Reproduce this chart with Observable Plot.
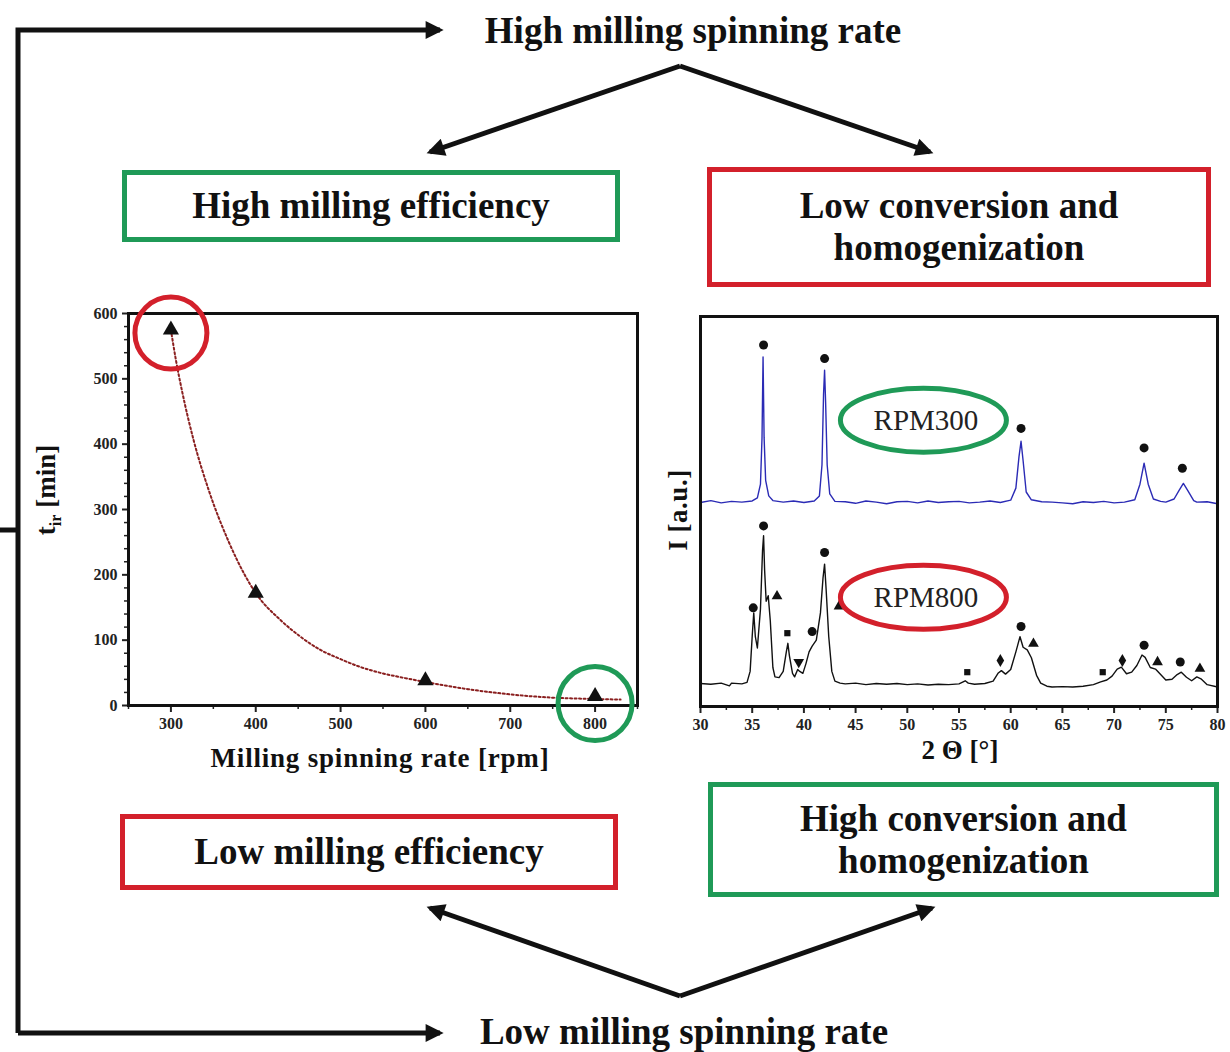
<!DOCTYPE html>
<html><head><meta charset="utf-8">
<script src="https://cdn.jsdelivr.net/npm/d3@7"></script>
<script src="https://cdn.jsdelivr.net/npm/@observablehq/plot@0.6"></script>
<style>
html,body{margin:0;padding:0;background:#fff;}
#root{position:relative;width:1230px;height:1052px;overflow:hidden;font-family:"Liberation Serif","Times New Roman",serif;background:#fff;}
.box{position:absolute;box-sizing:border-box;border:5px solid;display:flex;align-items:center;justify-content:center;text-align:center;font-weight:bold;font-size:37px;line-height:42px;color:#111;}
.lbl{position:absolute;font-weight:bold;white-space:nowrap;color:#111;transform:translate(-50%,-50%);}
.plot{position:absolute;}
#overlay{position:absolute;left:0;top:0;pointer-events:none;}
</style></head><body><div id="root"></div>
<script>
// ---------- Left chart data: t_ir vs milling spinning rate ----------
const rpmValues = [300, 400, 600, 800];
const tirValues = [575, 172, 38, 14];
const fitRpm = [300, 306, 313, 327, 345, 368, 387, 400, 429, 452, 475, 500, 521, 550, 568, 600, 650, 700, 750, 800, 830];
const fitTir = [575, 528, 482, 405, 328, 251, 200, 172, 131, 106, 86, 71, 60, 49, 44, 36, 25, 17, 12, 10, 9];
const leftXTicks = [300, 400, 500, 600, 700, 800];
const leftXMinor = [250, 350, 450, 550, 650, 750, 850];
const leftYTicks = [0, 100, 200, 300, 400, 500, 600];
const leftYMinor = [20, 40, 60, 80, 120, 140, 160, 180, 220, 240, 260, 280, 320, 340, 360, 380, 420, 440, 460, 480, 520, 540, 560, 580];
const circleRedRpm = [300], circleRedTir = [570];
const circleGreenRpm = [800], circleGreenTir = [3];

// ---------- Right chart data: XRD patterns ----------
const rpm300Theta = [30, 31, 32, 33, 34, 35, 35.5, 35.8, 35.95, 36.05, 36.15, 36.3, 36.6, 37, 38, 39, 40, 41, 41.5, 41.75, 41.9, 42.0, 42.1, 42.25, 42.5, 43, 44, 45, 46, 47, 48, 49, 50, 51, 52, 53, 54, 55, 56, 57, 58, 59, 60, 60.5, 60.8, 61.0, 61.2, 61.5, 62, 63, 64, 65, 66, 67, 68, 69, 70, 71, 72, 72.5, 72.9, 73.3, 73.8, 74.5, 75, 75.8, 76.3, 76.7, 77.1, 77.7, 78, 79, 80];
const rpm300I = [52.3, 52.8, 52.2, 52.6, 52.4, 52.7, 53.5, 57, 69, 89.6, 69, 58, 54, 52.8, 52.4, 52.7, 52.3, 52.7, 54, 62, 80, 86.2, 78, 62, 54.5, 52.6, 52.5, 52.1, 52.7, 52.4, 52.0, 52.5, 52.6, 52.2, 52.7, 52.3, 52.5, 52.6, 52.2, 52.4, 52.7, 52.3, 52.9, 56, 64, 68, 63, 55, 53, 52.5, 52.4, 52.2, 52.0, 52.5, 52.3, 52.6, 52.2, 52.4, 53, 57, 62.4, 57, 53.2, 52.6, 52.4, 53.2, 55.5, 57.2, 55.5, 52.8, 52.4, 52.5, 52.0];
const rpm800Theta = [30, 31, 32, 32.8, 33, 34, 34.5, 34.8, 35.0, 35.15, 35.3, 35.5, 35.8, 36.0, 36.1, 36.2, 36.35, 36.55, 36.75, 37.0, 37.2, 37.6, 38.0, 38.3, 38.45, 38.6, 38.9, 39.1, 39.4, 39.6, 39.9, 40.2, 40.5, 40.8, 41.2, 41.6, 41.85, 42.0, 42.15, 42.4, 42.7, 43, 43.5, 44, 45, 46, 47, 48, 49, 50, 51, 52, 53, 54, 55, 55.6, 55.9, 56.5, 57.5, 58.3, 58.8, 59.1, 59.5, 60.0, 60.5, 60.9, 61.2, 61.6, 62.0, 62.5, 62.9, 63.5, 64, 65, 66, 67, 68, 68.7, 69.3, 69.8, 70.3, 70.7, 71.2, 71.7, 72.2, 72.7, 73.0, 73.5, 74.0, 74.5, 75.0, 75.6, 76.1, 76.5, 77.0, 77.5, 78.0, 78.4, 79.0, 80];
const rpm800I = [5.9, 5.7, 6.0, 5.3, 6.0, 5.8, 6.2, 9, 18, 24, 18, 15, 25, 40, 43.8, 35, 27, 28.4, 22, 10, 7.6, 7.4, 9, 14, 16.2, 13, 8.5, 7.6, 9.5, 9, 8.5, 11, 14, 15.5, 17, 24, 33, 36.5, 30, 18, 9, 6.5, 6.0, 5.8, 6.0, 5.6, 5.9, 5.7, 5.9, 5.6, 5.8, 5.5, 5.7, 5.6, 5.8, 6.6, 6.0, 5.7, 5.9, 6.5, 8.6, 9.2, 8.3, 9.5, 14, 17.9, 15.2, 14.5, 12.5, 8, 6.0, 5.2, 5.0, 5.1, 5.0, 5.2, 5.6, 6.3, 6.8, 7.8, 9.6, 10.1, 8.4, 8.8, 10.5, 13.2, 12.6, 10.0, 9.6, 8.2, 6.8, 7.0, 8.2, 8.8, 7.5, 6.6, 7.6, 7.1, 5.6, 5.0];
// phase markers
const dotTheta300 = [36.1, 42.0, 61.0, 72.9, 76.6];
const dotI300 = [92.7, 89.2, 71.3, 66.3, 61.1];
const dotTheta800 = [35.1, 36.1, 40.8, 42.0, 61.0, 72.9, 76.4];
const dotI800 = [25.3, 46.3, 19.2, 39.5, 20.5, 15.7, 11.4];
const triTheta800 = [37.4, 43.4, 62.2, 74.2, 78.3];
const triI800 = [28.3, 25.7, 16.1, 11.4, 9.7];
const sqTheta800 = [38.4, 55.8, 68.9];
const sqI800 = [18.8, 8.8, 8.8];
const diaTheta800 = [59.0, 70.8];
const diaI800 = [11.8, 11.8];
const downTheta800 = [39.5];
const downI800 = [11.4];
const sampleLabels = ["RPM300", "RPM800"];
const sampleTheta = [51.8, 51.8];
const sampleI = [73.3, 27.9];
const rightXTicks = [30, 35, 40, 45, 50, 55, 60, 65, 70, 75, 80];
const rightXMinor = [32.5, 37.5, 42.5, 47.5, 52.5, 57.5, 62.5, 67.5, 72.5, 77.5];

// ---------- Diagram texts ----------
const topText = "High milling spinning rate";
const bottomText = "Low milling spinning rate";
const boxTexts = ["High milling efficiency", "Low conversion and<br>homogenization", "Low milling efficiency", "High conversion and<br>homogenization"];

const zip = (xs, ys) => xs.map((x, i) => ({x, y: ys[i]}));
const root = document.getElementById("root");
const GREEN = "#1f9a57", RED = "#d3202b";
const blank = () => "";

// ---------- Left chart ----------
const leftChart = Plot.plot({
  width: 620, height: 490,
  marginLeft: 88, marginRight: 23, marginTop: 23, marginBottom: 75,
  x: {domain: [250, 850], axis: null},
  y: {domain: [0, 600], axis: null},
  style: {fontFamily: "Liberation Serif, serif", fontSize: "16px", fontWeight: "bold", background: "transparent", overflow: "visible", color: "#222"},
  marks: [
    Plot.axisY({ticks: leftYTicks, tickSize: 6, tickPadding: 5, strokeWidth: 2, label: null}),
    Plot.axisY({ticks: leftYMinor, tickSize: 4, tickFormat: blank, strokeWidth: 1.5, label: null}),
    Plot.axisX({ticks: leftXTicks, tickSize: 7, tickPadding: 5, strokeWidth: 2, label: null}),
    Plot.axisX({ticks: leftXMinor, tickSize: 4, tickFormat: blank, strokeWidth: 1.5, label: null}),
    Plot.line(zip(fitRpm, fitTir), {x: "x", y: "y", stroke: "#8a1f1f", strokeWidth: 2, strokeDasharray: "2,2.5", curve: "monotone-x"}),
    Plot.dot(zip(rpmValues, tirValues), {x: "x", y: "y", symbol: "triangle", fill: "#111", r: 6}),
    Plot.frame({stroke: "#111", strokeWidth: 3}),
    Plot.dot(zip(circleRedRpm, circleRedTir), {x: "x", y: "y", r: 36, stroke: RED, strokeWidth: 5, fill: "none"}),
    Plot.dot(zip(circleGreenRpm, circleGreenTir), {x: "x", y: "y", r: 37, stroke: GREEN, strokeWidth: 5, fill: "none"})
  ]
});
leftChart.classList.add("plot");
leftChart.style.left = "40px"; leftChart.style.top = "290px";
root.appendChild(leftChart);

// ---------- Right chart ----------
const rightChart = Plot.plot({
  width: 570, height: 480,
  marginLeft: 40, marginRight: 13, marginTop: 16, marginBottom: 74,
  x: {domain: [30, 80], axis: null},
  y: {domain: [0, 100], axis: null},
  style: {fontFamily: "Liberation Serif, serif", fontSize: "16px", fontWeight: "bold", background: "transparent", overflow: "visible", color: "#222"},
  marks: [
    Plot.axisX({ticks: rightXTicks, tickSize: 7, tickPadding: 5, strokeWidth: 2, label: null}),
    Plot.axisX({ticks: rightXMinor, tickSize: 4, tickFormat: blank, strokeWidth: 1.5, label: null}),
    Plot.line(zip(rpm300Theta, rpm300I), {x: "x", y: "y", stroke: "#2b2bb5", strokeWidth: 1.4}),
    Plot.line(zip(rpm800Theta, rpm800I), {x: "x", y: "y", stroke: "#111", strokeWidth: 1.4}),
    Plot.dot(zip(dotTheta300, dotI300), {x: "x", y: "y", r: 4.5, fill: "#111"}),
    Plot.dot(zip(dotTheta800, dotI800), {x: "x", y: "y", r: 4.5, fill: "#111"}),
    Plot.dot(zip(triTheta800, triI800), {x: "x", y: "y", r: 4, symbol: "triangle", fill: "#111"}),
    Plot.dot(zip(sqTheta800, sqI800), {x: "x", y: "y", r: 3.5, symbol: "square", fill: "#111"}),
    Plot.dot(zip(diaTheta800, diaI800), {x: "x", y: "y", r: 4, symbol: "diamond", fill: "#111"}),
    Plot.dot(zip(downTheta800, downI800), {x: "x", y: "y", r: 4, symbol: "triangle", rotate: 180, fill: "#111"}),
    Plot.text(sampleLabels.map((t, i) => ({t, x: sampleTheta[i], y: sampleI[i]})), {x: "x", y: "y", text: "t", fontSize: 29, fontWeight: "normal", fill: "#222"}),
    Plot.frame({stroke: "#111", strokeWidth: 3})
  ]
});
rightChart.classList.add("plot");
rightChart.style.left = "660px"; rightChart.style.top = "300px";
root.appendChild(rightChart);

// ---------- Boxes ----------
function addBox(html, color, l, t, w, h) {
  const d = document.createElement("div");
  d.className = "box";
  d.style.cssText += `left:${l}px;top:${t}px;width:${w}px;height:${h}px;border-color:${color};`;
  d.innerHTML = html;
  root.appendChild(d);
}
addBox(boxTexts[0], GREEN, 122, 170, 498, 72);
addBox(boxTexts[1], RED, 707, 167, 504, 120);
addBox(boxTexts[2], RED, 120, 814, 498, 76);
addBox(boxTexts[3], GREEN, 708, 782, 511, 115);

function addLabel(html, cx, cy, size, rotate, extra) {
  const d = document.createElement("div");
  d.className = "lbl";
  d.style.left = cx + "px"; d.style.top = cy + "px";
  d.style.fontSize = size + "px";
  if (rotate) d.style.transform = "translate(-50%,-50%) rotate(-90deg)";
  if (extra) d.style.cssText += extra;
  d.innerHTML = html;
  root.appendChild(d);
}
addLabel(topText, 693, 30, 37);
addLabel(bottomText, 684, 1031, 37);
addLabel("Milling spinning rate [rpm]", 380, 758, 27, false, "letter-spacing:0.8px;");
addLabel("t<sub style='font-size:16px'>ir</sub> [min]", 48, 490, 27, true);
addLabel("I [a.u.]", 678, 510, 27, true, "letter-spacing:0.5px;");
addLabel("2 &Theta; [&deg;]", 960, 750, 27);

// ---------- Overlay: arrows and ellipses ----------
const svg = d3.select(root).append("svg").attr("id", "overlay").attr("width", 1230).attr("height", 1052);
svg.append("defs").append("marker").attr("id", "ah").attr("viewBox", "0 0 10 10")
  .attr("refX", 8).attr("refY", 5).attr("markerWidth", 4.2).attr("markerHeight", 3.6).attr("orient", "auto")
  .append("path").attr("d", "M0,0L10,5L0,10z").attr("fill", "#111");
const paths = [
  {d: "M18,1033 L18,30 L440,30", arrow: true},
  {d: "M18,1033 L440,1033", arrow: true},
  {d: "M0,530 L18,530", arrow: false},
  {d: "M680,66 L430,152", arrow: true},
  {d: "M680,66 L930,152", arrow: true},
  {d: "M680,996 L430,908", arrow: true},
  {d: "M680,996 L932,908", arrow: true}
];
for (const p of paths) {
  const e = svg.append("path").attr("d", p.d).attr("fill", "none").attr("stroke", "#111").attr("stroke-width", 5).attr("stroke-linejoin", "miter");
  if (p.arrow) e.attr("marker-end", "url(#ah)");
}
const sx = rightChart.scale("x"), sy = rightChart.scale("y");
const ellColors = [GREEN, RED];
sampleLabels.forEach((_, i) => {
  svg.append("ellipse")
    .attr("cx", 660 + sx.apply(sampleTheta[i]) - 2)
    .attr("cy", 300 + sy.apply(sampleI[i]))
    .attr("rx", 83).attr("ry", 32)
    .attr("fill", "none").attr("stroke", ellColors[i]).attr("stroke-width", 5);
});
</script></body></html>
